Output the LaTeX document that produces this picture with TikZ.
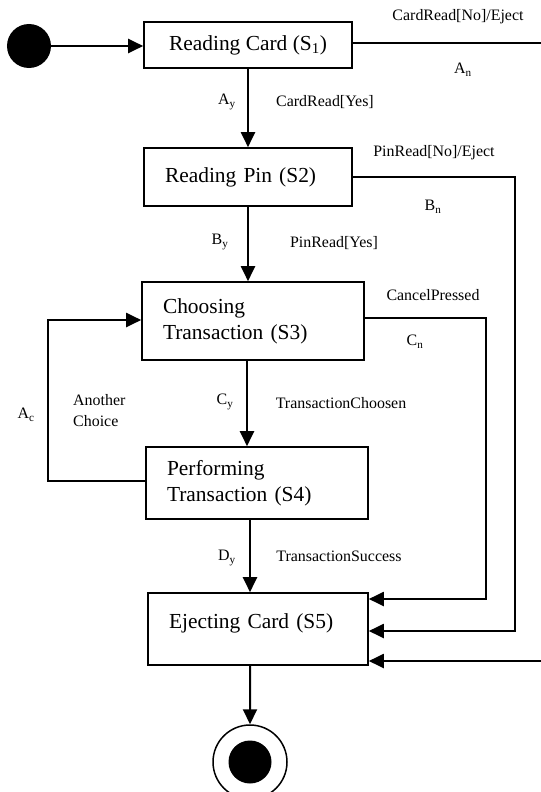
\documentclass[tikz,border=0pt]{standalone}
\usepackage{fontspec}
\setmainfont{Liberation Serif}
\usetikzlibrary{arrows.meta,calc}
\begin{document}
\begin{tikzpicture}[x=1bp,y=-1bp,
  state/.style={draw,line width=1.6bp,rectangle,font=\fontsize{21.5}{26}\selectfont,inner sep=0pt},
  lbl/.style={font=\fontsize{16}{21}\selectfont,inner sep=0pt},
  conn/.style={line width=2bp,-{Triangle[length=15bp,width=14bp]}},
  plain/.style={line width=2bp}]
\useasboundingbox (0,0) rectangle (541,792);
% states
\node[circle,fill,minimum size=44bp,inner sep=0pt] (init) at (29,46) {};
\node[state,minimum width=208bp,minimum height=46bp] (S1) at (248,45) {Reading Card (S\textsubscript{1})};
\node[state,minimum width=208bp,minimum height=58bp,text width=166bp,align=left] (S2) at (248,177) {Reading Pin (S2)};
\node[state,minimum width=222bp,minimum height=78bp,text width=180bp,align=left] (S3) at (253,321) {Choosing\\Transaction (S3)};
\node[state,minimum width=222bp,minimum height=72bp,text width=180bp,align=left] (S4) at (257,483) {Performing\\Transaction (S4)};
\node[state,minimum width=220bp,minimum height=72bp,text width=178bp,align=left,text depth=15bp] (S5) at (258,629) {Ejecting Card (S5)};
\node[circle,draw,line width=1.5bp,minimum size=74bp,inner sep=0pt] (final) at (250,762) {};
\fill (final.center) circle (21.5bp);
% helper coordinates
\coordinate (an1) at (541,43);
\coordinate (an2) at (541,661);
\coordinate (b1) at (515,177);
\coordinate (b2) at (515,631);
\coordinate (c1) at (486,318);
\coordinate (c2) at (486,599);
\coordinate (d1) at (48,481);
\coordinate (d2) at (48,320);
% connectors
\draw[conn] (init.east) -- (init.east -| S1.west);
\draw[conn] (S1.south) -- (S1.south |- S2.north);
\draw[conn] (S2.south) -- (S2.south |- S3.north);
\draw[conn] ([xshift=-6bp]S3.south) -- ([xshift=-6bp]S3.south |- S4.north);
\draw[conn] ([xshift=-7bp]S4.south) -- ([xshift=-7bp]S4.south |- S5.north);
\draw[conn] ([xshift=-8bp]S5.south) -- (final.north);
\draw[plain] (S1.east |- an1) -- (an1);
\draw[conn] (an2) -- (an2 -| S5.east);
\draw[conn] (S2.east |- b1) -- (b1) -- (b2) -- (b2 -| S5.east);
\draw[conn] (S3.east |- c1) -- (c1) -- (c2) -- (c2 -| S5.east);
\draw[conn] (S4.west |- d1) -- (d1) -- (d2) -- (d2 -| S3.west);
% labels
\node[lbl] (lAn1) at (458,17) {CardRead[No]/Eject};
\node[lbl] (lAn) at (463,70) {A\textsubscript{n}};
\node[lbl] (lAy) at (227,102) {A\textsubscript{y}};
\node[lbl] (lAy1) at (325,102) {CardRead[Yes]};
\node[lbl] (lBn1) at (434,153) {PinRead[No]/Eject};
\node[lbl] (lBn) at (433,207) {B\textsubscript{n}};
\node[lbl] (lBy) at (220,242) {B\textsubscript{y}};
\node[lbl] (lBy1) at (334,243) {PinRead[Yes]};
\node[lbl] (lCn1) at (433,295) {CancelPressed};
\node[lbl] (lCn) at (415,342) {C\textsubscript{n}};
\node[lbl,align=left,anchor=west] (lAc1) at (73,411) {Another\\Choice};
\node[lbl] (lAc) at (26,415) {A\textsubscript{c}};
\node[lbl] (lCy) at (225,402) {C\textsubscript{y}};
\node[lbl] (lCy1) at (341,403) {TransactionChoosen};
\node[lbl] (lDy) at (227,558) {D\textsubscript{y}};
\node[lbl] (lDy1) at (339,556) {TransactionSuccess};
\end{tikzpicture}
\end{document}
